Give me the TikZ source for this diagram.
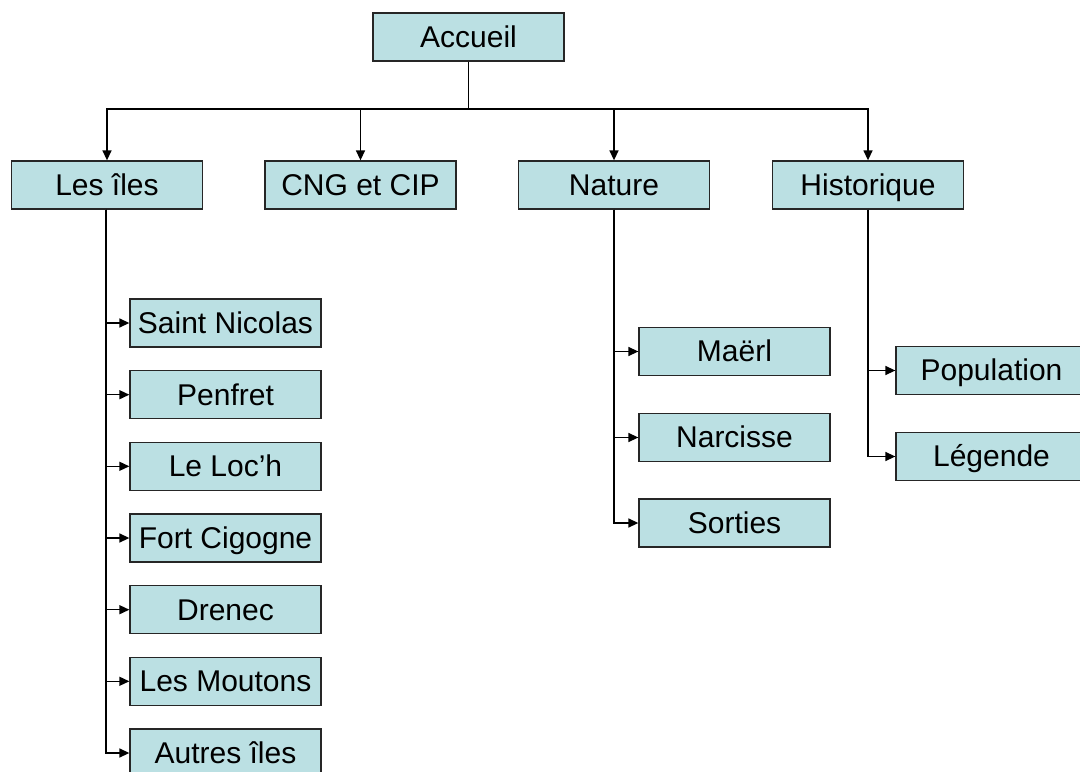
\documentclass[tikz,border=0pt]{standalone}
\usepackage{fontspec}
\setmainfont{Liberation Sans}
\usetikzlibrary{arrows.meta}
\definecolor{boxfill}{RGB}{187,224,227}
\tikzset{
  box/.style={draw=black!85, line width=1.3bp, fill=boxfill, minimum width=191bp, minimum height=48bp,
    inner sep=0pt, text height=27.1bp, text depth=6.4bp, font=\fontsize{30bp}{36bp}\selectfont},
  conn/.style={line width=1.4bp, draw=black},
  arr/.style={conn, -{Triangle[length=10bp,width=9bp]}}
}
\begin{document}
\begin{tikzpicture}[x=1bp,y=-1bp]
\useasboundingbox (0,0) rectangle (1080,772);
% top
\node[box] (accueil) at (468.5,37) {Accueil};
% level 1
\node[box] (iles) at (107,185) {Les îles};
\node[box] (cng) at (360.5,185) {CNG et CIP};
\node[box] (nature) at (614,185) {Nature};
\node[box] (histo) at (868,185) {Historique};
% iles children
\node[box] (sn) at (225.5,323) {Saint Nicolas};
\node[box] (pe) at (225.5,394.7) {Penfret};
\node[box] (ll) at (225.5,466.3) {Le Loc’h};
\node[box] (fc) at (225.5,538) {Fort Cigogne};
\node[box] (dr) at (225.5,609.7) {Drenec};
\node[box] (lm) at (225.5,681.3) {Les Moutons};
\node[box] (ai) at (225.5,753) {Autres îles};
% nature children
\node[box] (ma) at (734.5,351.5) {Maërl};
\node[box] (na) at (734.5,437.5) {Narcisse};
\node[box] (so) at (734.5,523) {Sorties};
% historique children
\node[box] (po) at (991.5,370.5) {Population};
\node[box] (le) at (991.5,456.5) {Légende};
% connectors from top
\coordinate (bus) at (468.5,109);
\draw[conn] (accueil.south) -- (bus);
\foreach \n in {iles,cng,nature,histo}{
  \draw[arr] (bus) -| (\n.north);
}
% iles branch
\foreach \n in {sn,pe,ll,fc,dr,lm,ai}{
  \draw[arr] ([xshift=-1bp]iles.south) |- (\n.west);
}
% nature branch
\foreach \n in {ma,na,so}{
  \draw[arr] (nature.south) |- (\n.west);
}
% historique branch
\foreach \n in {po,le}{
  \draw[arr] (histo.south) |- (\n.west);
}
\end{tikzpicture}
\end{document}
